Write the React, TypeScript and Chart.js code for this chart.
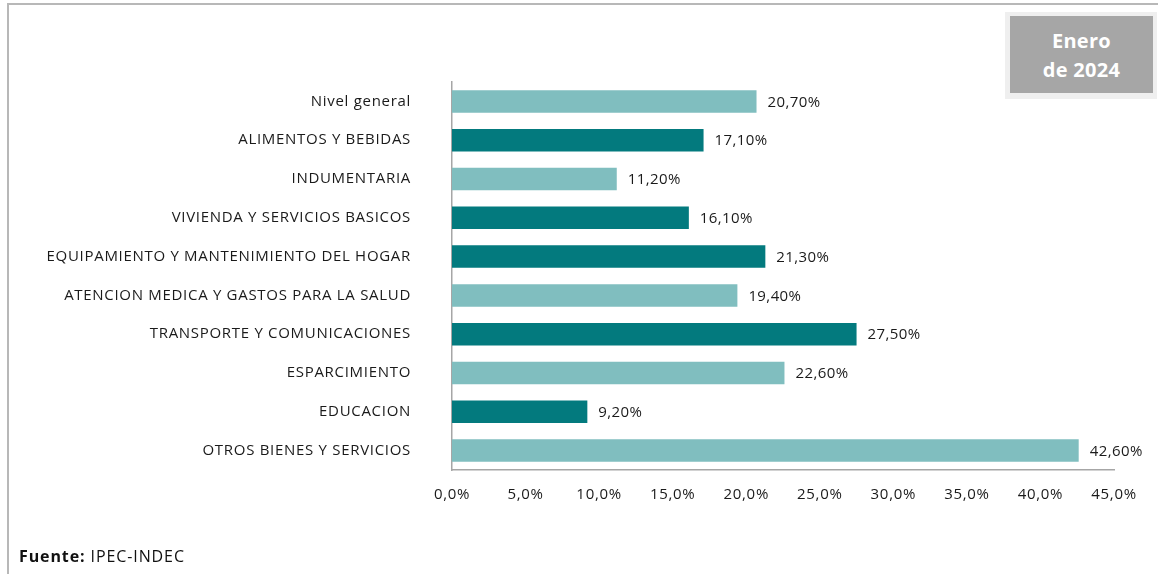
import React, { useEffect, useRef } from "react";
import { Chart, registerables } from "chart.js";

Chart.register(...registerables);

const categories = [
  "Nivel general",
  "ALIMENTOS Y BEBIDAS",
  "INDUMENTARIA",
  "VIVIENDA Y SERVICIOS BASICOS",
  "EQUIPAMIENTO Y MANTENIMIENTO DEL HOGAR",
  "ATENCION MEDICA Y GASTOS PARA LA SALUD",
  "TRANSPORTE Y COMUNICACIONES",
  "ESPARCIMIENTO",
  "EDUCACION",
  "OTROS BIENES Y SERVICIOS",
];
const values = [20.7, 17.1, 11.2, 16.1, 21.3, 19.4, 27.5, 22.6, 9.2, 42.6];
const barColors = [
  "#80BEBF", "#037A7E", "#80BEBF", "#037A7E", "#037A7E",
  "#80BEBF", "#037A7E", "#80BEBF", "#037A7E", "#80BEBF",
];
const xMin = 0;
const xMax = 45;
const xStep = 5;

const FONT = "'Open Sans', Lato, sans-serif";
const SPACING = "0.7px";

const fmt = (v: number, d: number) => v.toFixed(d).replace(".", ",");

const spacing = {
  id: "spacing",
  beforeLayout(chart: any) {
    chart.ctx.letterSpacing = SPACING;
  },
  beforeDraw(chart: any) {
    chart.ctx.letterSpacing = SPACING;
  },
};

const valueLabels = {
  id: "valueLabels",
  afterDatasetsDraw(chart: any) {
    const { ctx } = chart;
    const meta = chart.getDatasetMeta(0);
    ctx.save();
    ctx.letterSpacing = "0.4px";
    ctx.font = `15px ${FONT}`;
    ctx.fillStyle = "#1a1a1a";
    ctx.textAlign = "left";
    ctx.textBaseline = "middle";
    meta.data.forEach((bar: any, i: number) => {
      ctx.fillText(fmt(values[i], 2) + "%", bar.x + 11, bar.y + 1);
    });
    ctx.restore();
  },
};

export default function App() {
  const ref = useRef<HTMLCanvasElement>(null);
  useEffect(() => {
    if (!ref.current) return;
    const chart = new Chart(ref.current, {
      type: "bar",
      data: {
        labels: categories,
        datasets: [
          {
            data: values,
            backgroundColor: barColors,
            borderWidth: 0,
            categoryPercentage: 1,
            barPercentage: 0.58,
          },
        ],
      },
      options: {
        indexAxis: "y",
        animation: false,
        responsive: false,
        maintainAspectRatio: false,
        layout: { padding: { top: 82, right: 44, bottom: 64, left: 0 } },
        plugins: {
          legend: { display: false },
          tooltip: { enabled: false },
        },
        scales: {
          x: {
            min: xMin,
            max: xMax,
            ticks: {
              stepSize: xStep,
              callback: (v: any) => fmt(Number(v), 1) + "%",
              font: { family: FONT, size: 15 },
              color: "#1a1a1a",
              padding: 16,
              maxRotation: 0,
            },
            grid: { display: false, drawTicks: false },
            border: { display: true, color: "#a6a6a6", width: 1.5 },
            afterFit: (s: any) => {
              s.height = 40;
            },
          },
          y: {
            ticks: {
              font: { family: FONT, size: 15 },
              color: "#1a1a1a",
              padding: 41,
              autoSkip: false,
            },
            grid: { display: false, drawTicks: false },
            border: { display: true, color: "#a6a6a6", width: 1.5 },
            afterFit: (s: any) => {
              s.width = 452;
            },
          },
        },
      },
      plugins: [spacing, valueLabels],
    });
    return () => chart.destroy();
  }, []);

  return (
    <div
      style={{
        position: "absolute",
        left: 0,
        top: 0,
        width: 1158,
        height: 574,
        background: "#fff",
        overflow: "hidden",
        fontFamily: FONT,
      }}
    >
      <div
        style={{
          position: "absolute",
          left: 7,
          top: 3,
          width: 1151,
          height: 600,
          borderTop: "2px solid #b8b8b8",
          borderLeft: "2px solid #b8b8b8",
        }}
      />
      <canvas
        ref={ref}
        width={1158}
        height={574}
        style={{ position: "absolute", left: 0, top: 0, width: 1158, height: 574 }}
      />
      <div
        style={{
          position: "absolute",
          left: 1005,
          top: 12,
          width: 152,
          height: 87,
          background: "#efefef",
        }}
      />
      <div
        style={{
          position: "absolute",
          left: 1010,
          top: 16,
          width: 143,
          height: 77,
          background: "#a6a6a6",
          color: "#fff",
          fontWeight: 700,
          fontSize: 20,
          lineHeight: "29px",
          textAlign: "center",
          display: "flex",
          flexDirection: "column",
          justifyContent: "center",
          fontFamily: "'Open Sans', sans-serif",
          letterSpacing: "0.3px",
        }}
      >
        <div>Enero</div>
        <div>de 2024</div>
      </div>
      <div
        style={{
          position: "absolute",
          left: 19,
          top: 545,
          fontSize: 16,
          color: "#111",
          whiteSpace: "nowrap",
          letterSpacing: "0.9px",
        }}
      >
        <b>Fuente:</b> IPEC-INDEC
      </div>
    </div>
  );
}
